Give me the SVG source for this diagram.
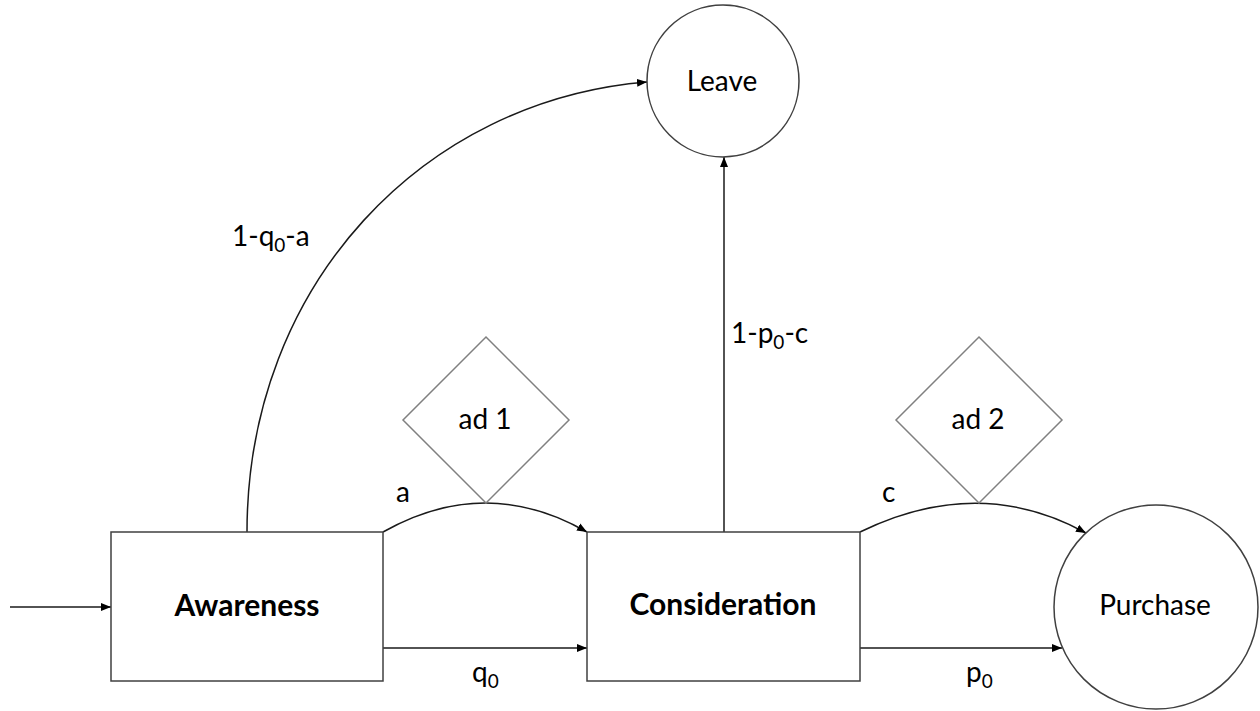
<svg xmlns="http://www.w3.org/2000/svg" width="1260" height="711" viewBox="0 0 1260 711">
<defs>
<marker id="arr" viewBox="0 0 10 10" refX="10" refY="5" markerWidth="10" markerHeight="10" markerUnits="userSpaceOnUse" orient="auto">
<path d="M0,1 L10,5 L0,9 Z" fill="#000"/>
</marker>
<style>
.box{fill:#fff;stroke:#404040;stroke-width:1.5}
.circ{fill:#fff;stroke:#404040;stroke-width:1.5}
.dia{fill:#fff;stroke:#808080;stroke-width:1.5}
.edge{fill:none;stroke:#1a1a1a;stroke-width:1.5;marker-end:url(#arr)}
.lbl{font-family:Lato,"Open Sans",sans-serif;font-size:28px;fill:#000}
.bold{font-family:Lato,"Open Sans",sans-serif;font-size:30px;font-weight:bold;fill:#000}
.sub{font-size:19px}
</style>
</defs>
<rect width="1260" height="711" fill="#fff"/>
<g id="connectors">
<path class="edge" d="M10,607 L111,607"/>
<path class="edge" d="M247,532 C247,283 425,100 647,82"/>
<path class="edge" d="M724,532 L724,157"/>
<path class="edge" d="M383,532 Q486,474 587,532"/>
<path class="edge" d="M383,648 L587,648"/>
<path class="edge" d="M860,532 Q979,474 1086,533"/>
<path class="edge" d="M860,648 L1062,648"/>
</g>
<g id="labels">
<text class="lbl" x="232" y="246">1-q<tspan class="sub" dy="6">0</tspan><tspan dy="-6">-a</tspan></text>
<text class="lbl" x="731" y="343">1-p<tspan class="sub" dy="6">0</tspan><tspan dy="-6">-c</tspan></text>
<text class="lbl" x="396" y="502">a</text>
<text class="lbl" x="882" y="502">c</text>
<text class="lbl" x="472" y="682">q<tspan class="sub" dy="6">0</tspan></text>
<text class="lbl" x="966" y="682">p<tspan class="sub" dy="6">0</tspan></text>
</g>
<g id="awareness">
<rect class="box" x="111" y="532" width="272" height="149"/>
<text class="bold" x="247" y="616" text-anchor="middle">Awareness</text>
</g>
<g id="consideration">
<rect class="box" x="587" y="532" width="273" height="149"/>
<text class="bold" x="723" y="615" text-anchor="middle">Consideration</text>
</g>
<g id="leave">
<circle class="circ" cx="723" cy="81" r="76"/>
<text class="lbl" x="722" y="91" text-anchor="middle">Leave</text>
</g>
<g id="purchase">
<circle class="circ" cx="1156" cy="607" r="102"/>
<text class="lbl" x="1155" y="615" text-anchor="middle">Purchase</text>
</g>
<g id="ad1">
<polygon class="dia" points="486,337 569,420 486,503 403,420"/>
<text class="lbl" x="485" y="429" text-anchor="middle">ad 1</text>
</g>
<g id="ad2">
<polygon class="dia" points="979,337 1062,420 979,503 896,420"/>
<text class="lbl" x="978" y="429" text-anchor="middle">ad 2</text>
</g>
</svg>
